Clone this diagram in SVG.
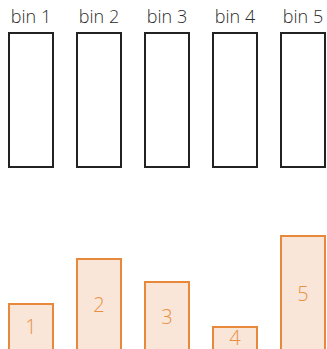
<svg xmlns="http://www.w3.org/2000/svg" width="327" height="349" viewBox="0 0 327 349">
<style>
.lbl{font-family:"Open Sans","Noto Sans","Liberation Sans",sans-serif;font-weight:300;font-size:18px;fill:#2a2a2a;text-anchor:middle}
.bin{fill:#fff;stroke:#222;stroke-width:2}
.bar{fill:#F9E6D8;stroke:#E8883A;stroke-width:2}
.num{font-family:"Open Sans","Noto Sans","Liberation Sans",sans-serif;font-weight:300;font-size:20px;fill:#E8903F;text-anchor:middle;dominant-baseline:central}
</style>
<rect width="327" height="349" fill="#fff"/>
<g id="bin1"><text class="lbl" x="31" y="23">bin 1</text><rect class="bin" x="9" y="33" width="44" height="134"/></g>
<g id="bin2"><text class="lbl" x="99" y="23">bin 2</text><rect class="bin" x="77" y="33" width="44" height="134"/></g>
<g id="bin3"><text class="lbl" x="167" y="23">bin 3</text><rect class="bin" x="145" y="33" width="44" height="134"/></g>
<g id="bin4"><text class="lbl" x="235" y="23">bin 4</text><rect class="bin" x="213" y="33" width="44" height="134"/></g>
<g id="bin5"><text class="lbl" x="303" y="23">bin 5</text><rect class="bin" x="281" y="33" width="44" height="134"/></g>
<g id="item1"><rect class="bar" x="9" y="304" width="44" height="60"/><text class="num" x="31" y="326">1</text></g>
<g id="item2"><rect class="bar" x="77" y="259" width="44" height="100"/><text class="num" x="99" y="304">2</text></g>
<g id="item3"><rect class="bar" x="145" y="282" width="44" height="80"/><text class="num" x="167" y="316">3</text></g>
<g id="item4"><rect class="bar" x="213" y="327" width="44" height="40"/><text class="num" x="235" y="337">4</text></g>
<g id="item5"><rect class="bar" x="281" y="236" width="44" height="130"/><text class="num" x="303" y="293">5</text></g>
<g id="connectors"/>
</svg>
